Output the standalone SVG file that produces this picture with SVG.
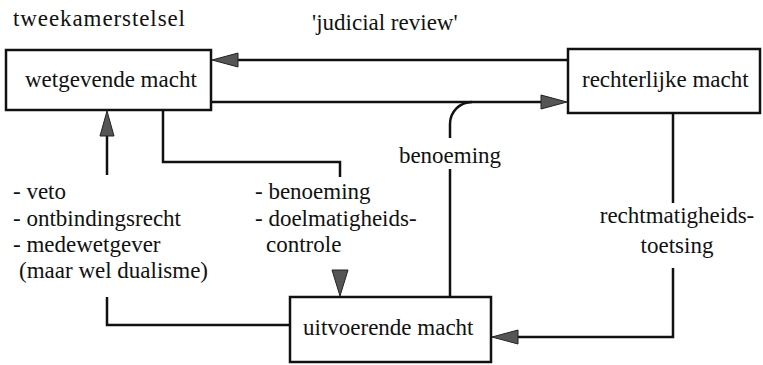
<svg xmlns="http://www.w3.org/2000/svg" width="763" height="365" viewBox="0 0 763 365">
<style>
.t{font-family:'Liberation Serif','DejaVu Serif',serif;font-size:23px;fill:#111}
.box{fill:#fff;stroke:#111;stroke-width:2.5}
.ln{fill:none;stroke:#111;stroke-width:2.5}
.ah{fill:#555;stroke:#222;stroke-width:1}
.mid{text-anchor:middle}
</style>
<rect width="763" height="365" fill="#fff"/>
<text class="t" x="13" y="26" textLength="172">tweekamerstelsel</text>
<text class="t" x="312" y="30">'judicial review'</text>
<g id="connectors">
<path class="ln" d="M568,60 L236,60"/>
<polygon class="ah" points="212,60 238,53 238,67"/>
<path class="ln" d="M211,102 L545,102"/>
<polygon class="ah" points="567,102 541,95 541,109"/>
<path class="ln" d="M450,296 L450,169 M450,138 L450,124 A22,22 0 0 1 472,102"/>
<path class="ln" d="M673,113 L673,203 M673,268 L673,337 L515,337"/>
<polygon class="ah" points="492,337 518,330 518,344"/>
<path class="ln" d="M107,175 L107,133"/>
<polygon class="ah" points="107,111 100,136 114,136"/>
<path class="ln" d="M163,110 L163,162 L340,162 L340,177"/>
<polygon class="ah" points="340,296 332,270 348,270"/>
<path class="ln" d="M290,325 L107,325 L107,297"/>
</g>
<g id="wetgevende">
<rect class="box" x="6" y="50" width="205" height="60"/>
<text class="t" x="25" y="87">wetgevende macht</text>
</g>
<g id="rechterlijke">
<rect class="box" x="568" y="49" width="192" height="64"/>
<text class="t" x="582" y="87">rechterlijke macht</text>
</g>
<g id="uitvoerende">
<rect class="box" x="290" y="297" width="201" height="65"/>
<text class="t" x="303" y="335">uitvoerende macht</text>
</g>
<g id="labels">
<text class="t mid" x="450" y="163">benoeming</text>
<text class="t" x="13" y="199">- veto</text>
<text class="t" x="13" y="226">- ontbindingsrecht</text>
<text class="t" x="13" y="252">- medewetgever</text>
<text class="t" x="19" y="278">(maar wel dualisme)</text>
<text class="t" x="255" y="199">- benoeming</text>
<text class="t" x="255" y="226">- doelmatigheids-</text>
<text class="t" x="266" y="252">controle</text>
<text class="t mid" x="677" y="223">rechtmatigheids-</text>
<text class="t mid" x="677" y="253">toetsing</text>
</g>
</svg>
